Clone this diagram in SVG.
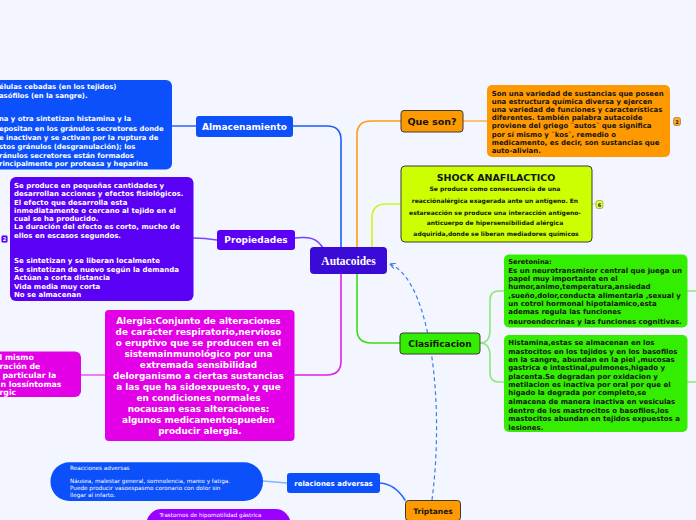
<svg xmlns="http://www.w3.org/2000/svg" width="696" height="520" viewBox="0 0 696 520">
<style>
.b{font-family:"DejaVu Sans",Verdana,sans-serif;font-weight:bold;font-size:7px}
.w{fill:#ffffff}
.d{fill:#141414}
.c{text-anchor:middle}
.s{font-family:"DejaVu Sans",Verdana,sans-serif;font-size:5.7px;fill:#ffffff}
.ln{fill:none;stroke-width:1.6;stroke-linecap:round}
.bd{stroke:#3a3a3a;stroke-width:1}
</style>
<defs>
<marker id="ah" viewBox="0 0 10 10" refX="1" refY="5" markerWidth="5" markerHeight="5" orient="auto">
<path d="M10,0 L1,5 L10,10" fill="none" stroke="#3d7bf0" stroke-width="2"/>
</marker>
</defs>
<rect width="696" height="520" fill="#f3f6fe"/>
<g id="connectors">
<path class="ln" stroke="#1e5bff" d="M341,248 V140 Q341,126 327,126 H293"/>
<path class="ln" stroke="#ff9a10" d="M357,248 V135 Q357,121 371,121 H401"/>
<path class="ln" stroke="#ccf51a" d="M372,248 V218 Q372,204 386,204 H400"/>
<path class="ln" stroke="#7a3dff" d="M295,238 Q312,236 318,242 Q322,246 323,248"/>
<path class="ln" stroke="#e01fe8" d="M341,274 V361 Q341,375 327,375 H295"/>
<path class="ln" stroke="#37e010" d="M357,274 V329 Q357,343 371,343 H400"/>
<path class="ln" stroke="#2b63ff" d="M172,126 H196"/>
<path class="ln" stroke="#7b44ff" d="M193,238 Q205,238 217,240"/>
<path class="ln" stroke="#ee55ee" d="M80,375 H105"/>
<path class="ln" stroke="#ffae4a" d="M463,121 H487"/>
<path class="ln" stroke="#ddf070" d="M592,204 H596"/>
<path class="ln" stroke="#8ee67a" d="M480,343 Q490,343 490,330 V300 Q490,291 499,291 H504"/>
<path class="ln" stroke="#8ee67a" d="M480,343 Q490,343 490,356 V373 Q490,382 499,382 H504"/>
<path class="ln" stroke="#8ee67a" d="M687,291 H696"/>
<path class="ln" stroke="#8ee67a" d="M687,382 H696"/>
<path class="ln" stroke="#2b63ff" d="M380,483 Q395,484 405,500"/>
<path class="ln" stroke="#8ab0ff" d="M263,481 Q275,482 287,483"/>
<path fill="none" stroke="#3d7bf0" stroke-width="1.2" stroke-dasharray="4,3" marker-start="url(#ah)" d="M390,264 C430,280 445,400 432,500"/>
</g>
<g id="autacoides">
<rect x="310" y="247" width="77" height="27" rx="4" fill="#3a0ad6"/>
<text x="348.5" y="264.5" font-family="'Liberation Serif','Times New Roman',serif" font-weight="bold" font-size="11.5" fill="#ffffff" text-anchor="middle">Autacoides</text>
</g>
<g id="almacenamiento">
<rect x="196" y="116" width="97" height="21" rx="3" fill="#0b50fa"/>
<text class="b w c" x="244.5" y="129.7" style="font-size:9px">Almacenamiento</text>
</g>
<g id="almacenamiento-detalle">
<rect x="-10" y="80" width="182" height="89.5" rx="6" fill="#0b50fa"/>
<text class="b w" style="font-size:6.85px">
<tspan x="-1" y="89.4">élulas cebadas (en los  tejidos)</tspan>
<tspan x="-1" y="98.4">asófilos (en la sangre).</tspan>
<tspan x="-1" y="121.4">na y otra sintetizan histamina y la</tspan>
<tspan x="-1" y="131.4">epositan en los gránulos secretores donde</tspan>
<tspan x="-1" y="139.7">e inactivan y se activan por la ruptura de</tspan>
<tspan x="-1" y="148.7">stos gránulos (desgranulación);  los</tspan>
<tspan x="-1" y="157.7">ránulos secretores están formados</tspan>
<tspan x="-1" y="166.4">rincipalmente por proteasa y heparina</tspan>
</text>
</g>
<g id="propiedades">
<rect x="217" y="230" width="78" height="20" rx="3" fill="#5a00f5"/>
<text class="b w c" x="256" y="243.3" style="font-size:9px">Propiedades</text>
</g>
<g id="propiedades-detalle">
<rect x="10" y="177" width="183.5" height="124" rx="6" fill="#5a00f5"/>
<rect x="1.5" y="235.5" width="6" height="7" rx="1.5" fill="#5a00f5" stroke="#8a60ff" stroke-width="0.6"/>
<text x="4.5" y="241" font-family="'DejaVu Sans',sans-serif" font-size="5" font-weight="bold" fill="#ffffff" text-anchor="middle">2</text>
<text class="b w">
<tspan x="14" y="187.7">Se produce en pequeñas cantidades y</tspan>
<tspan x="14" y="196">desarrollan acciones y efectos fisiológicos.</tspan>
<tspan x="14" y="204.7">El efecto que desarrolla esta</tspan>
<tspan x="14" y="212.7">inmediatamente o cercano al tejido en el</tspan>
<tspan x="14" y="221">cual se ha producido.</tspan>
<tspan x="14" y="229.4">La duración del efecto es corto, mucho de</tspan>
<tspan x="14" y="238.4">ellos  en escasos segundos.</tspan>
<tspan x="14" y="263.4">Se sintetizan y se liberan localmente</tspan>
<tspan x="14" y="272">Se sintetizan de nuevo según la demanda</tspan>
<tspan x="14" y="280.4">Actúan a corta distancia</tspan>
<tspan x="14" y="288.7">Vida media muy corta</tspan>
<tspan x="14" y="297.4">No se almacenan</tspan>
</text>
</g>
<g id="alergia">
<rect x="105" y="310" width="189.5" height="131" rx="4" fill="#e300e6"/>
<text class="b w c" style="font-size:8.9px">
<tspan x="200" y="324.2">Alergia:Conjunto de alteraciones</tspan>
<tspan x="200" y="335.2">de carácter respiratorio,nervioso</tspan>
<tspan x="200" y="346.2">o eruptivo que se producen en el</tspan>
<tspan x="200" y="357.2">sistemainmunológico por una</tspan>
<tspan x="200" y="368.2">extremada sensibilidad</tspan>
<tspan x="200" y="379.2">delorganismo a ciertas sustancias</tspan>
<tspan x="200" y="390.2">a las que ha sidoexpuesto, y que</tspan>
<tspan x="200" y="401.2">en condiciones normales</tspan>
<tspan x="200" y="412.2">nocausan esas alteraciones:</tspan>
<tspan x="200" y="423.2">algunos medicamentospueden</tspan>
<tspan x="200" y="434.2">producir alergia.</tspan>
</text>
</g>
<g id="alergia-detalle">
<rect x="-10" y="351.5" width="91" height="45.5" rx="6" fill="#e300e6"/>
<text class="b w" style="font-size:7.8px">
<tspan x="-0.5" y="360.2">l mismo</tspan>
<tspan x="-0.5" y="368.9">ración de</tspan>
<tspan x="2.5" y="377.6">particular la</tspan>
<tspan x="0.5" y="386.6">n lossíntomas</tspan>
<tspan x="-0.5" y="395.1">rgic</tspan>
</text>
</g>
<g id="que-son">
<rect x="401" y="110.5" width="62" height="21.5" rx="3" fill="#ff9900" class="bd"/>
<text class="b d c" x="432" y="124.8" style="font-size:9.5px">Que son?</text>
</g>
<g id="que-son-detalle">
<rect x="487" y="85" width="183" height="72" rx="5" fill="#ff9900"/>
<rect x="673.5" y="117.5" width="7" height="8" rx="2" fill="#ffaa22" stroke="#8a6a30" stroke-width="0.6"/>
<text x="677" y="123.7" font-family="'DejaVu Sans',sans-serif" font-size="5" font-weight="bold" fill="#222" text-anchor="middle">2</text>
<text class="b d" style="font-size:6.95px">
<tspan x="491.7" y="95.8">Son una variedad de sustancias que poseen</tspan>
<tspan x="491.7" y="103.5">una estructura química diversa y ejercen</tspan>
<tspan x="491.7" y="111.8">una variedad de funciones y características</tspan>
<tspan x="491.7" y="119.8">diferentes. también palabra autacoide</tspan>
<tspan x="491.7" y="128.2">proviene del griego ¨autos¨ que significa</tspan>
<tspan x="491.7" y="136.5">por sí mismo y ¨kos¨, remedio o</tspan>
<tspan x="491.7" y="145.2">medicamento, es decir, son sustancias que</tspan>
<tspan x="491.7" y="153.2">auto-alivian.</tspan>
</text>
</g>
<g id="shock">
<rect x="401" y="166" width="191" height="76" rx="4" fill="#ccff00" class="bd"/>
<rect x="596" y="200.5" width="7" height="8" rx="2" fill="#ddff44" stroke="#8a8a30" stroke-width="0.6"/>
<text x="599.5" y="206.7" font-family="'DejaVu Sans',sans-serif" font-size="5" font-weight="bold" fill="#222" text-anchor="middle">6</text>
<text class="b d c" x="496" y="181.1" style="font-size:9.5px">SHOCK ANAFILACTICO</text>
<text class="b d c" style="font-size:6px">
<tspan x="496" y="191.4">Se produce como consecuencia de una</tspan>
<tspan x="496" y="203.4">reacciónalérgica exagerada ante un antígeno. En</tspan>
<tspan x="496" y="214.8">estareacción se produce una interacción antígeno-</tspan>
<tspan x="496" y="225.4">anticuerpo de hipersensibilidad alérgica</tspan>
<tspan x="496" y="236.1">adquirida,donde se liberan mediadores químicos</tspan>
</text>
</g>
<g id="clasificacion">
<rect x="400" y="333" width="80" height="21" rx="3" fill="#33ee00" class="bd"/>
<text class="b d c" x="440" y="346.8" style="font-size:9px">Clasificacion</text>
</g>
<g id="seretonina">
<rect x="504" y="254.5" width="183.5" height="73" rx="5" fill="#33ee00"/>
<text class="b d">
<tspan x="508.3" y="264.2" font-size="6.6">Seretonina:</tspan>
<tspan x="508.3" y="272.7">Es un neurotransmisor central que juega un</tspan>
<tspan x="508.3" y="281">papel muy importante en el</tspan>
<tspan x="508.3" y="288.7">humor,animo,temperatura,ansiedad</tspan>
<tspan x="508.3" y="297.7">,sueño,dolor,conducta alimentaria ,sexual y</tspan>
<tspan x="508.3" y="306">un cotrol hormonal hipotalamico,esta</tspan>
<tspan x="508.3" y="314.4">ademas regula las funciones</tspan>
<tspan x="508.3" y="323.7">neuroendocrinas y las funciones cognitivas.</tspan>
</text>
</g>
<g id="histamina">
<rect x="504" y="335" width="183.5" height="97" rx="5" fill="#33ee00"/>
<text class="b d">
<tspan x="508.3" y="345.4">Histamina,estas se almacenan en los</tspan>
<tspan x="508.3" y="353.7">mastocitos en los tejidos y en los basofilos</tspan>
<tspan x="508.3" y="362">en la sangre, abundan en la piel ,mucosas</tspan>
<tspan x="508.3" y="370.4">gastrica e intestinal,pulmones,higado y</tspan>
<tspan x="508.3" y="378.7">placenta.Se degradan por oxidacion y</tspan>
<tspan x="508.3" y="387">metilacion es inactiva por oral por que el</tspan>
<tspan x="508.3" y="395.4">higado la degrada por completo,se</tspan>
<tspan x="508.3" y="403.7">almacena de manera inactiva en vesiculas</tspan>
<tspan x="508.3" y="412.7">dentro de los mastrocitos o basofilos,los</tspan>
<tspan x="508.3" y="421">mastocitos abundan en tejidos expuestos a</tspan>
<tspan x="508.3" y="430">lesiones.</tspan>
</text>
</g>
<g id="relaciones-adversas">
<rect x="287" y="473" width="93" height="20" rx="3" fill="#0b50fa"/>
<text class="b w c" x="333.5" y="485.7" style="font-size:7px">relaciones adversas</text>
</g>
<g id="reacciones-detalle">
<rect x="50.5" y="462.3" width="212.5" height="38.7" rx="19" fill="#0b50fa"/>
<text class="s">
<tspan x="70" y="470.2">Reacciones adversas</tspan>
<tspan x="70" y="482.6">Náusea, malestar  general,  somnolencia,  mareo y fatiga.</tspan>
<tspan x="70" y="490.2">Puede producir  vasoespasmo  coronario con  dolor sin</tspan>
<tspan x="70" y="496.9">llegar al  infarto.</tspan>
</text>
</g>
<g id="triptanes">
<rect x="405.5" y="500.5" width="55" height="20" rx="3" fill="#ff9900" class="bd"/>
<text class="b d c" x="433" y="513.6" style="font-size:7.5px">Triptanes</text>
</g>
<g id="trastornos">
<rect x="146.5" y="509" width="144" height="30" rx="15" fill="#9a00ff"/>
<text class="s" x="159.5" y="516.6" style="font-size:5.6px">Trastornos de hipomotilidad gástrica</text>
</g>
</svg>
